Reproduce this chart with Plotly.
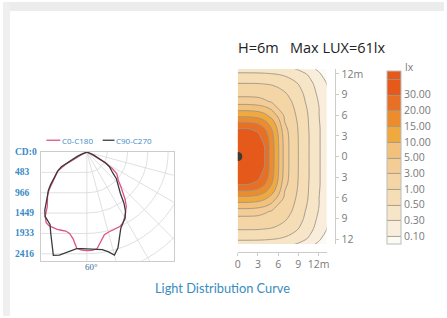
import numpy as np
import plotly.graph_objects as go

W, H = 447, 318

# ---------------- photometric (polar) data, candela ----------------
gamma = [0, 3, 6, 9, 12, 15, 18, 21, 24, 27, 30, 33, 36, 39, 42, 45, 48, 51, 54, 57, 60, 63, 66, 70, 75, 80, 90]
c0 = [2342, 2340, 2310, 2158, 2005, 1970, 1956, 1947, 1935, 1888, 1794, 1689, 1595, 1447, 1285, 1133, 1009, 938, 880, 727, 469, 164, 0, 0, 0, 0, 0]
c180 = [2342, 2329, 2299, 2088, 1975, 1942, 1952, 1966, 1970, 1968, 1935, 1818, 1602, 1499, 1396, 1274, 1091, 990, 898, 816, 586, 141, 0, 0, 0, 0, 0]
c90 = [2295, 2299, 2310, 2346, 2416, 2533, 2393, 2158, 1982, 1888, 1818, 1689, 1501, 1267, 1138, 1056, 945, 797, 704, 640, 520, 330, 180, 80, 20, 0, 0]
c270 = [2295, 2296, 2306, 2357, 2439, 2533, 2580, 2334, 2111, 1930, 1867, 1823, 1701, 1548, 1400, 1297, 1163, 1020, 905, 830, 700, 420, 250, 120, 30, 0, 0]
cd_ticks = [0, 483, 966, 1449, 1933, 2416]
cd_labels = ["CD:0", "483", "966", "1449", "1933", "2416"]
plane_names = ["C0-C180", "C90-C270"]

# ---------------- illuminance grid (lx), upper half y>=0 ----------------
lux_x = [0, 1.5, 3, 4, 5, 6, 7, 8, 9, 10.5, 12, 13.5]
lux_y_half = [0, 1.5, 3, 4, 5, 6, 7, 8, 9, 10.5, 12, 13.5]
lux_half = [
    [61, 56, 42, 30, 17.7, 10.6, 4.1, 1.91, 1.0, 0.52, 0.33, 0.10],
    [56.3, 54.5, 41.5, 29.8, 17.6, 10.5, 4.1, 1.9, 1.0, 0.52, 0.33, 0.10],
    [43.4, 42.9, 35.7, 26.1, 16.8, 10.1, 3.9, 1.87, 0.99, 0.52, 0.33, 0.10],
    [32.1, 31.8, 27.9, 20.7, 15.2, 8.8, 3.5, 1.79, 0.97, 0.51, 0.33, 0.10],
    [20, 19.9, 18.5, 16.1, 12.1, 6.7, 2.94, 1.65, 0.93, 0.50, 0.32, 0.10],
    [13.4, 13.3, 12.5, 11.0, 7.9, 4.5, 2.43, 1.43, 0.87, 0.49, 0.31, 0.095],
    [7.8, 7.8, 7.2, 6.2, 4.6, 2.9, 1.95, 1.22, 0.80, 0.47, 0.31, 0.093],
    [3.9, 3.9, 3.66, 3.2, 2.7, 2.12, 1.52, 1.0, 0.72, 0.44, 0.29, 0.089],
    [2.3, 2.3, 2.25, 2.12, 1.88, 1.55, 1.16, 0.86, 0.64, 0.42, 0.25, 0.085],
    [1.1, 1.1, 1.08, 1.02, 0.97, 0.88, 0.77, 0.63, 0.50, 0.37, 0.19, 0.076],
    [0.545, 0.545, 0.54, 0.53, 0.51, 0.49, 0.46, 0.42, 0.37, 0.27, 0.107, 0.061],
    [0.30, 0.30, 0.30, 0.29, 0.28, 0.26, 0.25, 0.19, 0.144, 0.092, 0.064, 0.046],
]
lux_levels = [0.1, 0.3, 0.5, 1, 3, 5, 10, 15, 20, 30]
lux_labels = ["0.10", "0.30", "0.50", "1.00", "3.00", "5.00", "10.00", "15.00", "20.00", "30.00"]
band_colors = ["#fcfaf4", "#f8eedb", "#f6e5c6", "#f5ddb5", "#f4d6a6", "#f3cd95", "#f2c17c",
               "#efa93e", "#ec8c2c", "#e87024", "#e55a1b"]
xticks_m = [0, 3, 6, 9, 12]
xtick_text = ["0", "3", "6", "9", "12m"]
yticks_m = [12, 9, 6, 3, 0, -3, -6, -9, -12]
ytick_text = ["12m", "9", "6", "3", "0", "3", "6", "9", "12"]

BLUE = "#3a8ac6"
TICKFONT = dict(size=10.5, color="#7a7a7a", family="Open Sans")


def px(x):
    return x / W


def py(y):
    return 1 - y / H


fig = go.Figure()

# ---------------- polar curves ----------------
g = np.radians(np.array(gamma, dtype=float))


def curve(left, right):
    left = np.array(left, float)
    right = np.array(right, float)
    xl = -(left * np.sin(g))[::-1]
    yl = -(left * np.cos(g))[::-1]
    xr = right * np.sin(g)
    yr = -right * np.cos(g)
    return np.concatenate([xl, xr[1:]]), np.concatenate([yl, yr[1:]])


for (lft, rgt), col, name in [((c180, c0), "#e0528a", plane_names[0]), ((c270, c90), "#3b3b3b", plane_names[1])]:
    xs, ys = curve(lft, rgt)
    fig.add_trace(go.Scatter(x=xs, y=ys, mode="lines", name=name,
                             line=dict(color=col, width=1.3), xaxis="x", yaxis="y",
                             hoverinfo="skip"))

# ---------------- illuminance contour ----------------
lux_y = [-v for v in lux_y_half[:0:-1]] + lux_y_half
lux_full = np.array(lux_half[:0:-1] + lux_half, float)
ext_lv = [0.01] + lux_levels + [100]
ext_idx = list(range(-1, len(lux_levels) + 1))
z_idx = np.interp(np.log10(lux_full), np.log10(ext_lv), ext_idx)

nb = len(band_colors)
cscale = []
for j, c in enumerate(band_colors):
    cscale.append([j / nb, c])
    cscale.append([(j + 1) / nb, c])

fig.add_trace(go.Contour(
    x=lux_x, y=lux_y, z=z_idx, xaxis="x2", yaxis="y2",
    autocontour=False,
    contours=dict(start=0, end=10, size=1, coloring="fill"),
    colorscale=cscale,
    line=dict(color="#9f9588", width=0.9, smoothing=0.8),
    hoverinfo="skip",
    colorbar=dict(x=px(389), xanchor="left", xpad=0, y=py(70), yanchor="top", ypad=0,
                  len=173, lenmode="pixels", thickness=14, thicknessmode="pixels",
                  tickvals=list(range(len(lux_levels))), ticktext=lux_labels,
                  ticks="", tickfont=TICKFONT,
                  outlinecolor="#bcbcbc", outlinewidth=1),
))
fig.add_trace(go.Scatter(x=[0], y=[0], mode="markers", xaxis="x2", yaxis="y2",
                         marker=dict(size=9, color="#3a3a3a"), hoverinfo="skip"))

# ---------------- shapes ----------------
shapes = []
GRID = "#d8d8d8"
for k in range(1, 8):
    r = 483 * k
    shapes.append(dict(type="circle", xref="x", yref="y", x0=-r, x1=r, y0=-r, y1=r,
                       line=dict(color=GRID, width=0.8), layer="below"))
shapes.append(dict(type="rect", xref="x", yref="y", x0=-1500, x1=0, y0=-3000, y1=0,
                   fillcolor="white", line=dict(width=0), layer="below"))
for v in cd_ticks[1:]:
    shapes.append(dict(type="line", xref="x", yref="y", x0=-1500, x1=0, y0=-v, y1=-v,
                       line=dict(color=GRID, width=0.8), layer="below"))
for a in [0, 15, 30, 45, 60, 75]:
    t = np.radians(a)
    shapes.append(dict(type="line", xref="x", yref="y", x0=0, y0=0,
                       x1=4000 * np.sin(t), y1=-4000 * np.cos(t),
                       line=dict(color=GRID, width=0.8), layer="below"))
# page frame
shapes.append(dict(type="rect", xref="paper", yref="paper", x0=0, x1=1, y0=py(9), y1=1,
                   fillcolor="#ececec", line=dict(width=0), layer="below"))
shapes.append(dict(type="rect", xref="paper", yref="paper", x0=0, x1=px(7), y0=0, y1=1,
                   fillcolor="#efefef", line=dict(width=0), layer="below"))
# legend samples
shapes.append(dict(type="line", xref="paper", yref="paper", x0=px(44), x1=px(58), y0=py(140), y1=py(140),
                   line=dict(color="#e0528a", width=1.3)))
shapes.append(dict(type="line", xref="paper", yref="paper", x0=px(101), x1=px(113), y0=py(140), y1=py(140),
                   line=dict(color="#3b3b3b", width=1.3)))

# ---------------- annotations ----------------
ann = []
for v, lab in zip(cd_ticks, cd_labels):
    ann.append(dict(xref="paper", yref="y", x=px(10), y=-v, xanchor="left", yanchor="middle",
                    text="<b>%s</b>" % lab, showarrow=False,
                    font=dict(family="Liberation Serif", size=9.5, color=BLUE)))
ann.append(dict(xref="paper", yref="paper", x=px(58), y=py(140), xanchor="left", yanchor="middle",
                text=plane_names[0], showarrow=False, font=dict(family="Open Sans", size=8, color=BLUE)))
ann.append(dict(xref="paper", yref="paper", x=px(113), y=py(140), xanchor="left", yanchor="middle",
                text=plane_names[1], showarrow=False, font=dict(family="Open Sans", size=8, color=BLUE)))
ann.append(dict(xref="paper", yref="paper", x=px(90), y=py(268), xanchor="center", yanchor="middle",
                text="60°", showarrow=False, font=dict(family="Liberation Serif", size=9, color="#3d6a9a")))
ann.append(dict(xref="paper", yref="paper", x=px(236), y=py(46), xanchor="left", yanchor="middle",
                text="H=6m\u00a0\u00a0\u00a0Max LUX=61lx", showarrow=False,
                font=dict(family="Open Sans", size=14.5, color="#222222")))
ann.append(dict(xref="paper", yref="paper", x=px(405), y=py(66), xanchor="left", yanchor="middle",
                text="lx", showarrow=False, font=TICKFONT))
ann.append(dict(xref="paper", yref="paper", x=px(222), y=py(290), xanchor="center", yanchor="middle",
                text="Light Distribution Curve", showarrow=False,
                font=dict(family="Lato", size=12.8, color="#3a8cc0")))

hidden = dict(showgrid=False, zeroline=False, showticklabels=False, ticks="",
              showline=True, mirror=True, linecolor="#cccccc", linewidth=1, fixedrange=True)
fig.update_layout(
    width=W, height=H, autosize=False,
    margin=dict(l=0, r=0, t=0, b=0),
    paper_bgcolor="white", plot_bgcolor="white",
    showlegend=False,
    xaxis=dict(domain=[px(39), px(173)], range=[-1079, 2064], **hidden),
    yaxis=dict(domain=[py(262), py(152)], range=[-2580, 0], **hidden),
    xaxis2=dict(domain=[px(238), px(328)], range=[0, 13.2], anchor="free", position=py(253),
                tickvals=xticks_m, ticktext=xtick_text, ticks="outside", ticklen=3,
                tickcolor="#cccccc", showline=True, linecolor="#cccccc", showgrid=False,
                zeroline=False, tickfont=TICKFONT),
    yaxis2=dict(domain=[py(245), py(68)], range=[-12.7, 12.7], anchor="free", side="right",
                position=px(337), tickvals=yticks_m, ticktext=ytick_text, ticks="outside",
                ticklen=3, tickcolor="#cccccc", showline=True, linecolor="#cccccc",
                showgrid=False, zeroline=False, tickfont=TICKFONT),
    shapes=shapes, annotations=ann,
)

fig.write_html("out.html", config={"displayModeBar": False},
               post_script="document.body.style.margin='0';document.body.style.overflow='hidden';")
